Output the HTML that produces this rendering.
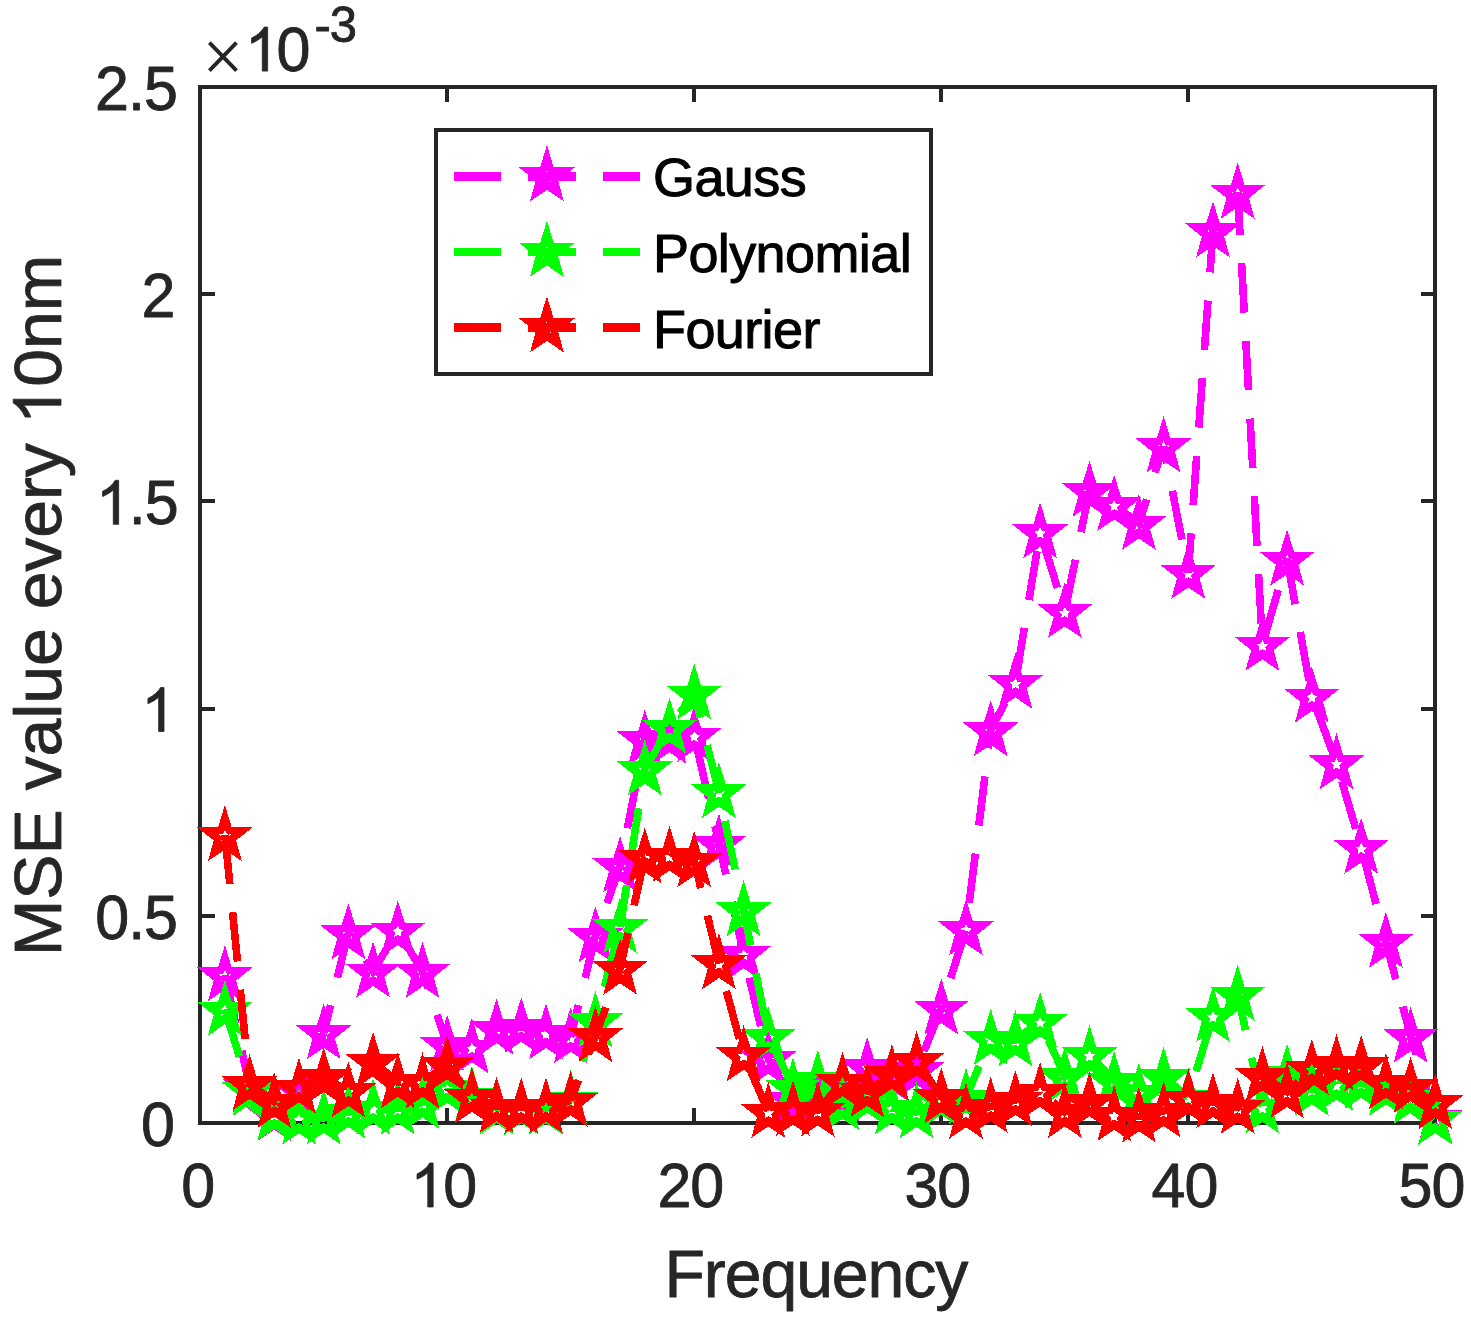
<!DOCTYPE html>
<html><head><meta charset="utf-8"><title>MSE value every 10nm</title>
<style>
html,body{margin:0;padding:0;background:#ffffff;}
body{width:1471px;height:1319px;overflow:hidden;font-family:"Liberation Sans",sans-serif;}
svg{display:block;}
</style></head><body>
<svg width="1471" height="1319" viewBox="0 0 1471 1319">
<defs><path id="st" fill-rule="evenodd" d="M0.00 -29.80 L6.75 -7.70 L28.00 -7.70 L11.20 5.60 L16.90 26.30 L0.00 14.90 L-16.90 26.30 L-11.20 5.60 L-28.00 -7.70 L-6.75 -7.70Z M0.00 -4.70 L1.82 -1.01 L5.90 -0.42 L2.95 2.46 L3.64 6.52 L0.00 4.60 L-3.64 6.52 L-2.95 2.46 L-5.90 -0.42 L-1.82 -1.01Z"/></defs>
<rect x="0" y="0" width="1471" height="1319" fill="#ffffff"/>
<g shape-rendering="crispEdges">
<rect x="200.2" y="87.0" width="1235.1" height="1035.8" fill="none" stroke="#262626" stroke-width="4.2"/>
<line x1="447.2" y1="1122.8" x2="447.2" y2="1108.3" stroke="#262626" stroke-width="4"/>
<line x1="447.2" y1="87.0" x2="447.2" y2="101.5" stroke="#262626" stroke-width="4"/>
<line x1="694.2" y1="1122.8" x2="694.2" y2="1108.3" stroke="#262626" stroke-width="4"/>
<line x1="694.2" y1="87.0" x2="694.2" y2="101.5" stroke="#262626" stroke-width="4"/>
<line x1="941.3" y1="1122.8" x2="941.3" y2="1108.3" stroke="#262626" stroke-width="4"/>
<line x1="941.3" y1="87.0" x2="941.3" y2="101.5" stroke="#262626" stroke-width="4"/>
<line x1="1188.3" y1="1122.8" x2="1188.3" y2="1108.3" stroke="#262626" stroke-width="4"/>
<line x1="1188.3" y1="87.0" x2="1188.3" y2="101.5" stroke="#262626" stroke-width="4"/>
<line x1="200.2" y1="915.6" x2="214.7" y2="915.6" stroke="#262626" stroke-width="4"/>
<line x1="1435.3" y1="915.6" x2="1420.8" y2="915.6" stroke="#262626" stroke-width="4"/>
<line x1="200.2" y1="708.5" x2="214.7" y2="708.5" stroke="#262626" stroke-width="4"/>
<line x1="1435.3" y1="708.5" x2="1420.8" y2="708.5" stroke="#262626" stroke-width="4"/>
<line x1="200.2" y1="501.3" x2="214.7" y2="501.3" stroke="#262626" stroke-width="4"/>
<line x1="1435.3" y1="501.3" x2="1420.8" y2="501.3" stroke="#262626" stroke-width="4"/>
<line x1="200.2" y1="294.2" x2="214.7" y2="294.2" stroke="#262626" stroke-width="4"/>
<line x1="1435.3" y1="294.2" x2="1420.8" y2="294.2" stroke="#262626" stroke-width="4"/>
</g>
<g font-family="'Liberation Sans', sans-serif" fill="#262626" stroke="#262626" stroke-width="0.8" stroke-linejoin="round" style="font-kerning:none">
<g transform="translate(198.20,1207.00) scale(1.0000,1.0200)" font-size="61.00"><text x="-16.96" y="0" letter-spacing="-1.00">0</text></g>
<g transform="translate(443.82,1207.00) scale(1.0000,1.0200)" font-size="61.00"><path vector-effect="non-scaling-stroke" transform="translate(-33.42,0) scale(0.02979,-0.02932)" d="M763 0H583V1147Q518 1085 412.5 1023T223 930V1104Q374 1175 487 1276T647 1472H763Z"/><text x="-0.50" y="0" letter-spacing="-1.00">0</text></g>
<g transform="translate(690.84,1207.00) scale(1.0000,1.0200)" font-size="61.00"><text x="-33.42" y="0" letter-spacing="-1.00">20</text></g>
<g transform="translate(937.86,1207.00) scale(1.0000,1.0200)" font-size="61.00"><text x="-33.42" y="0" letter-spacing="-1.00">30</text></g>
<g transform="translate(1184.88,1207.00) scale(1.0000,1.0200)" font-size="61.00"><text x="-33.42" y="0" letter-spacing="-1.00">40</text></g>
<g transform="translate(1431.90,1207.00) scale(1.0000,1.0200)" font-size="61.00"><text x="-33.42" y="0" letter-spacing="-1.00">50</text></g>
<g transform="translate(174.90,1145.80) scale(1.0000,1.0200)" font-size="61.00"><text x="-33.92" y="0" letter-spacing="-1.00">0</text></g>
<g transform="translate(178.00,938.64) scale(1.0000,1.0200)" font-size="61.00"><text x="-82.79" y="0" letter-spacing="-1.00">0.5</text></g>
<g transform="translate(175.20,731.48) scale(1.0000,1.0200)" font-size="61.00"><path vector-effect="non-scaling-stroke" transform="translate(-33.92,0) scale(0.02979,-0.02932)" d="M763 0H583V1147Q518 1085 412.5 1023T223 930V1104Q374 1175 487 1276T647 1472H763Z"/></g>
<g transform="translate(178.70,524.32) scale(1.0000,1.0200)" font-size="61.00"><path vector-effect="non-scaling-stroke" transform="translate(-82.79,0) scale(0.02979,-0.02932)" d="M763 0H583V1147Q518 1085 412.5 1023T223 930V1104Q374 1175 487 1276T647 1472H763Z"/><text x="-49.87" y="0" letter-spacing="-1.00">.5</text></g>
<g transform="translate(175.50,317.16) scale(1.0000,1.0200)" font-size="61.00"><text x="-33.92" y="0" letter-spacing="-1.00">2</text></g>
<g transform="translate(177.80,110.00) scale(1.0000,1.0200)" font-size="61.00"><text x="-82.79" y="0" letter-spacing="-1.00">2.5</text></g>
<path d="M209.4 42.6L236.5 70.6M236.5 42.6L209.4 70.6" stroke="#262626" stroke-width="3.9" fill="none"/>
<g transform="translate(244.90,71.10) scale(1.0000,1.0200)" font-size="61.00"><path vector-effect="non-scaling-stroke" transform="translate(0.00,0) scale(0.02979,-0.02932)" d="M763 0H583V1147Q518 1085 412.5 1023T223 930V1104Q374 1175 487 1276T647 1472H763Z"/><text x="31.72" y="0" letter-spacing="-2.20">0</text></g>
<g transform="translate(314.50,42.20) scale(1.0000,1.0200)" font-size="49.00"><text x="0.00" y="0" letter-spacing="-1.00">-3</text></g>
<g transform="translate(816.40,1296.50) scale(1.0000,1.0150)" font-size="66.20"><text x="-151.96" y="0" letter-spacing="-1.10">Frequency</text></g>
<g transform="translate(61.00,605.50) rotate(-90) scale(1.0250,1.0000)" font-size="66.20"><text x="-342.15" y="0" letter-spacing="0.00">MSE value every </text><path vector-effect="non-scaling-stroke" transform="translate(176.59,0) scale(0.03232,-0.03245)" d="M763 0H583V1147Q518 1085 412.5 1023T223 930V1104Q374 1175 487 1276T647 1472H763Z"/><text x="213.40" y="0" letter-spacing="0.00">0nm</text></g>
</g>
<g shape-rendering="crispEdges">
<polyline fill="none" stroke="#ff00ff" stroke-width="7.6" stroke-dasharray="49.5 28.3" stroke-dashoffset="0.00" points="224.9,974.9 249.6,1086.3 274.3,1114.9 299.0,1089.7 323.7,1032.9"/>
<polyline fill="none" stroke="#ff00ff" stroke-width="7.6" stroke-dasharray="49.5 28.3" stroke-dashoffset="20.80" points="323.7,1032.9 348.4,933.0 373.1,971.2 397.8,930.3 422.5,971.6"/>
<polyline fill="none" stroke="#ff00ff" stroke-width="7.6" stroke-dasharray="49.5 28.3" stroke-dashoffset="32.10" points="422.5,971.6 447.2,1044.5 471.9,1047.4 496.6,1028.3 521.3,1026.9 546.0,1033.0 570.7,1037.0"/>
<polyline fill="none" stroke="#ff00ff" stroke-width="7.6" stroke-dasharray="49.5 28.3" stroke-dashoffset="16.75" points="570.7,1037.0 595.4,936.0 620.1,865.9 644.8,739.1 669.5,737.5 694.2,735.4 718.9,843.3 743.6,953.5 768.3,1059.0 793.0,1100.0 817.8,1085.5 842.5,1095.5 867.2,1066.7 891.9,1075.2 916.6,1069.9"/>
<polyline fill="none" stroke="#ff00ff" stroke-width="7.6" stroke-dasharray="49.5 28.3" stroke-dashoffset="57.50" points="916.6,1069.9 941.3,1008.2 966.0,929.0 990.7,730.0 1015.4,682.5 1040.1,532.0 1064.8,611.6 1089.5,490.5 1114.2,504.6 1138.9,523.5 1163.6,446.0"/>
<polyline fill="none" stroke="#ff00ff" stroke-width="7.6" stroke-dasharray="49.5 28.3" stroke-dashoffset="32.05" points="1163.6,446.0 1188.3,572.5"/>
<polyline fill="none" stroke="#ff00ff" stroke-width="7.6" stroke-dasharray="49.5 28.3" stroke-dashoffset="10.30" points="1188.3,572.5 1213.0,231.0 1237.7,192.4"/>
<polyline fill="none" stroke="#ff00ff" stroke-width="7.6" stroke-dasharray="49.5 28.3" stroke-dashoffset="6.90" points="1237.7,192.4 1262.4,644.5 1287.1,559.2 1311.8,696.3 1336.5,763.0 1361.2,847.5 1385.9,941.5 1410.6,1036.4 1435.3,1117.5"/>
<use href="#st" x="224.9" y="974.9" fill="#ff00ff"/>
<use href="#st" x="249.6" y="1086.3" fill="#ff00ff"/>
<use href="#st" x="274.3" y="1114.9" fill="#ff00ff"/>
<use href="#st" x="299.0" y="1089.7" fill="#ff00ff"/>
<use href="#st" x="323.7" y="1032.9" fill="#ff00ff"/>
<use href="#st" x="348.4" y="933.0" fill="#ff00ff"/>
<use href="#st" x="373.1" y="971.2" fill="#ff00ff"/>
<use href="#st" x="397.8" y="930.3" fill="#ff00ff"/>
<use href="#st" x="422.5" y="971.6" fill="#ff00ff"/>
<use href="#st" x="447.2" y="1044.5" fill="#ff00ff"/>
<use href="#st" x="471.9" y="1047.4" fill="#ff00ff"/>
<use href="#st" x="496.6" y="1028.3" fill="#ff00ff"/>
<use href="#st" x="521.3" y="1026.9" fill="#ff00ff"/>
<use href="#st" x="546.0" y="1033.0" fill="#ff00ff"/>
<use href="#st" x="570.7" y="1037.0" fill="#ff00ff"/>
<use href="#st" x="595.4" y="936.0" fill="#ff00ff"/>
<use href="#st" x="620.1" y="865.9" fill="#ff00ff"/>
<use href="#st" x="644.8" y="739.1" fill="#ff00ff"/>
<use href="#st" x="669.5" y="737.5" fill="#ff00ff"/>
<use href="#st" x="694.2" y="735.4" fill="#ff00ff"/>
<use href="#st" x="718.9" y="843.3" fill="#ff00ff"/>
<use href="#st" x="743.6" y="953.5" fill="#ff00ff"/>
<use href="#st" x="768.3" y="1059.0" fill="#ff00ff"/>
<use href="#st" x="793.0" y="1100.0" fill="#ff00ff"/>
<use href="#st" x="817.8" y="1085.5" fill="#ff00ff"/>
<use href="#st" x="842.5" y="1095.5" fill="#ff00ff"/>
<use href="#st" x="867.2" y="1066.7" fill="#ff00ff"/>
<use href="#st" x="891.9" y="1075.2" fill="#ff00ff"/>
<use href="#st" x="916.6" y="1069.9" fill="#ff00ff"/>
<use href="#st" x="941.3" y="1008.2" fill="#ff00ff"/>
<use href="#st" x="966.0" y="929.0" fill="#ff00ff"/>
<use href="#st" x="990.7" y="730.0" fill="#ff00ff"/>
<use href="#st" x="1015.4" y="682.5" fill="#ff00ff"/>
<use href="#st" x="1040.1" y="532.0" fill="#ff00ff"/>
<use href="#st" x="1064.8" y="611.6" fill="#ff00ff"/>
<use href="#st" x="1089.5" y="490.5" fill="#ff00ff"/>
<use href="#st" x="1114.2" y="504.6" fill="#ff00ff"/>
<use href="#st" x="1138.9" y="523.5" fill="#ff00ff"/>
<use href="#st" x="1163.6" y="446.0" fill="#ff00ff"/>
<use href="#st" x="1188.3" y="572.5" fill="#ff00ff"/>
<use href="#st" x="1213.0" y="231.0" fill="#ff00ff"/>
<use href="#st" x="1237.7" y="192.4" fill="#ff00ff"/>
<use href="#st" x="1262.4" y="644.5" fill="#ff00ff"/>
<use href="#st" x="1287.1" y="559.2" fill="#ff00ff"/>
<use href="#st" x="1311.8" y="696.3" fill="#ff00ff"/>
<use href="#st" x="1336.5" y="763.0" fill="#ff00ff"/>
<use href="#st" x="1361.2" y="847.5" fill="#ff00ff"/>
<use href="#st" x="1385.9" y="941.5" fill="#ff00ff"/>
<use href="#st" x="1410.6" y="1036.4" fill="#ff00ff"/>
<use href="#st" x="1435.3" y="1117.5" fill="#ff00ff"/>
<polyline fill="none" stroke="#00ff00" stroke-width="7.6" stroke-dasharray="49.5 28.3" stroke-dashoffset="0.00" points="224.9,1009.3 249.6,1089.7 274.3,1114.1 299.0,1118.4 323.7,1118.0 348.4,1112.1 373.1,1108.3 397.8,1108.3 422.5,1102.6 447.2,1088.0 471.9,1095.6 496.6,1108.3 521.3,1108.3 546.0,1108.3 570.7,1099.6 595.4,1020.9 620.1,927.0"/>
<polyline fill="none" stroke="#00ff00" stroke-width="7.6" stroke-dasharray="49.5 28.3" stroke-dashoffset="7.20" points="620.1,927.0 644.8,769.0 669.5,727.5 694.2,693.2 718.9,791.8 743.6,910.0 768.3,1036.4 793.0,1087.3 817.8,1079.5 842.5,1104.0 867.2,1097.9 891.9,1108.0 916.6,1112.0 941.3,1100.0 966.0,1097.5"/>
<polyline fill="none" stroke="#00ff00" stroke-width="7.6" stroke-dasharray="49.5 28.3" stroke-dashoffset="15.50" points="966.0,1097.5 990.7,1038.6 1015.4,1039.9 1040.1,1021.5 1064.8,1076.2 1089.5,1055.0 1114.2,1080.7 1138.9,1092.5 1163.6,1076.6 1188.3,1097.4"/>
<polyline fill="none" stroke="#00ff00" stroke-width="7.6" stroke-dasharray="49.5 28.3" stroke-dashoffset="50.50" points="1188.3,1097.4 1213.0,1015.8 1237.7,994.4 1262.4,1107.1 1287.1,1073.5 1311.8,1089.4 1336.5,1084.8 1361.2,1083.0 1385.9,1089.4 1410.6,1097.7 1435.3,1118.3"/>
<use href="#st" x="224.9" y="1009.3" fill="#00ff00"/>
<use href="#st" x="249.6" y="1089.7" fill="#00ff00"/>
<use href="#st" x="274.3" y="1114.1" fill="#00ff00"/>
<use href="#st" x="299.0" y="1118.4" fill="#00ff00"/>
<use href="#st" x="323.7" y="1118.0" fill="#00ff00"/>
<use href="#st" x="348.4" y="1112.1" fill="#00ff00"/>
<use href="#st" x="373.1" y="1108.3" fill="#00ff00"/>
<use href="#st" x="397.8" y="1108.3" fill="#00ff00"/>
<use href="#st" x="422.5" y="1102.6" fill="#00ff00"/>
<use href="#st" x="447.2" y="1088.0" fill="#00ff00"/>
<use href="#st" x="471.9" y="1095.6" fill="#00ff00"/>
<use href="#st" x="496.6" y="1108.3" fill="#00ff00"/>
<use href="#st" x="521.3" y="1108.3" fill="#00ff00"/>
<use href="#st" x="546.0" y="1108.3" fill="#00ff00"/>
<use href="#st" x="570.7" y="1099.6" fill="#00ff00"/>
<use href="#st" x="595.4" y="1020.9" fill="#00ff00"/>
<use href="#st" x="620.1" y="927.0" fill="#00ff00"/>
<use href="#st" x="644.8" y="769.0" fill="#00ff00"/>
<use href="#st" x="669.5" y="727.5" fill="#00ff00"/>
<use href="#st" x="694.2" y="693.2" fill="#00ff00"/>
<use href="#st" x="718.9" y="791.8" fill="#00ff00"/>
<use href="#st" x="743.6" y="910.0" fill="#00ff00"/>
<use href="#st" x="768.3" y="1036.4" fill="#00ff00"/>
<use href="#st" x="793.0" y="1087.3" fill="#00ff00"/>
<use href="#st" x="817.8" y="1079.5" fill="#00ff00"/>
<use href="#st" x="842.5" y="1104.0" fill="#00ff00"/>
<use href="#st" x="867.2" y="1097.9" fill="#00ff00"/>
<use href="#st" x="891.9" y="1108.0" fill="#00ff00"/>
<use href="#st" x="916.6" y="1112.0" fill="#00ff00"/>
<use href="#st" x="941.3" y="1100.0" fill="#00ff00"/>
<use href="#st" x="966.0" y="1097.5" fill="#00ff00"/>
<use href="#st" x="990.7" y="1038.6" fill="#00ff00"/>
<use href="#st" x="1015.4" y="1039.9" fill="#00ff00"/>
<use href="#st" x="1040.1" y="1021.5" fill="#00ff00"/>
<use href="#st" x="1064.8" y="1076.2" fill="#00ff00"/>
<use href="#st" x="1089.5" y="1055.0" fill="#00ff00"/>
<use href="#st" x="1114.2" y="1080.7" fill="#00ff00"/>
<use href="#st" x="1138.9" y="1092.5" fill="#00ff00"/>
<use href="#st" x="1163.6" y="1076.6" fill="#00ff00"/>
<use href="#st" x="1188.3" y="1097.4" fill="#00ff00"/>
<use href="#st" x="1213.0" y="1015.8" fill="#00ff00"/>
<use href="#st" x="1237.7" y="994.4" fill="#00ff00"/>
<use href="#st" x="1262.4" y="1107.1" fill="#00ff00"/>
<use href="#st" x="1287.1" y="1073.5" fill="#00ff00"/>
<use href="#st" x="1311.8" y="1089.4" fill="#00ff00"/>
<use href="#st" x="1336.5" y="1084.8" fill="#00ff00"/>
<use href="#st" x="1361.2" y="1083.0" fill="#00ff00"/>
<use href="#st" x="1385.9" y="1089.4" fill="#00ff00"/>
<use href="#st" x="1410.6" y="1097.7" fill="#00ff00"/>
<use href="#st" x="1435.3" y="1118.3" fill="#00ff00"/>
<polyline fill="none" stroke="#ff0000" stroke-width="7.6" stroke-dasharray="49.5 28.3" stroke-dashoffset="0.00" points="224.9,834.8 249.6,1084.0 274.3,1101.7 299.0,1087.4 323.7,1077.2 348.4,1091.1 373.1,1061.5 397.8,1082.0 422.5,1082.2 447.2,1064.4 471.9,1097.0 496.6,1106.4 521.3,1107.3 546.0,1106.9 570.7,1100.4"/>
<polyline fill="none" stroke="#ff0000" stroke-width="7.6" stroke-dasharray="49.5 28.3" stroke-dashoffset="27.90" points="570.7,1100.4 595.4,1035.8 620.1,968.5 644.8,857.2 669.5,855.7 694.2,860.9 718.9,963.0 743.6,1054.9 768.3,1111.5 793.0,1109.7 817.8,1110.6 842.5,1081.5 867.2,1091.0 891.9,1073.9 916.6,1060.7 941.3,1097.1 966.0,1112.5 990.7,1106.4 1015.4,1100.1 1040.1,1091.8 1064.8,1111.7 1089.5,1101.5 1114.2,1115.0 1138.9,1116.4 1163.6,1111.0 1188.3,1098.5 1213.0,1102.1 1237.7,1107.5 1262.4,1075.6 1287.1,1092.0 1311.8,1068.5 1336.5,1064.0 1361.2,1064.8 1385.9,1082.8 1410.6,1086.5 1435.3,1103.0"/>
<use href="#st" x="224.9" y="834.8" fill="#ff0000"/>
<use href="#st" x="249.6" y="1084.0" fill="#ff0000"/>
<use href="#st" x="274.3" y="1101.7" fill="#ff0000"/>
<use href="#st" x="299.0" y="1087.4" fill="#ff0000"/>
<use href="#st" x="323.7" y="1077.2" fill="#ff0000"/>
<use href="#st" x="348.4" y="1091.1" fill="#ff0000"/>
<use href="#st" x="373.1" y="1061.5" fill="#ff0000"/>
<use href="#st" x="397.8" y="1082.0" fill="#ff0000"/>
<use href="#st" x="422.5" y="1082.2" fill="#ff0000"/>
<use href="#st" x="447.2" y="1064.4" fill="#ff0000"/>
<use href="#st" x="471.9" y="1097.0" fill="#ff0000"/>
<use href="#st" x="496.6" y="1106.4" fill="#ff0000"/>
<use href="#st" x="521.3" y="1107.3" fill="#ff0000"/>
<use href="#st" x="546.0" y="1106.9" fill="#ff0000"/>
<use href="#st" x="570.7" y="1100.4" fill="#ff0000"/>
<use href="#st" x="595.4" y="1035.8" fill="#ff0000"/>
<use href="#st" x="620.1" y="968.5" fill="#ff0000"/>
<use href="#st" x="644.8" y="857.2" fill="#ff0000"/>
<use href="#st" x="669.5" y="855.7" fill="#ff0000"/>
<use href="#st" x="694.2" y="860.9" fill="#ff0000"/>
<use href="#st" x="718.9" y="963.0" fill="#ff0000"/>
<use href="#st" x="743.6" y="1054.9" fill="#ff0000"/>
<use href="#st" x="768.3" y="1111.5" fill="#ff0000"/>
<use href="#st" x="793.0" y="1109.7" fill="#ff0000"/>
<use href="#st" x="817.8" y="1110.6" fill="#ff0000"/>
<use href="#st" x="842.5" y="1081.5" fill="#ff0000"/>
<use href="#st" x="867.2" y="1091.0" fill="#ff0000"/>
<use href="#st" x="891.9" y="1073.9" fill="#ff0000"/>
<use href="#st" x="916.6" y="1060.7" fill="#ff0000"/>
<use href="#st" x="941.3" y="1097.1" fill="#ff0000"/>
<use href="#st" x="966.0" y="1112.5" fill="#ff0000"/>
<use href="#st" x="990.7" y="1106.4" fill="#ff0000"/>
<use href="#st" x="1015.4" y="1100.1" fill="#ff0000"/>
<use href="#st" x="1040.1" y="1091.8" fill="#ff0000"/>
<use href="#st" x="1064.8" y="1111.7" fill="#ff0000"/>
<use href="#st" x="1089.5" y="1101.5" fill="#ff0000"/>
<use href="#st" x="1114.2" y="1115.0" fill="#ff0000"/>
<use href="#st" x="1138.9" y="1116.4" fill="#ff0000"/>
<use href="#st" x="1163.6" y="1111.0" fill="#ff0000"/>
<use href="#st" x="1188.3" y="1098.5" fill="#ff0000"/>
<use href="#st" x="1213.0" y="1102.1" fill="#ff0000"/>
<use href="#st" x="1237.7" y="1107.5" fill="#ff0000"/>
<use href="#st" x="1262.4" y="1075.6" fill="#ff0000"/>
<use href="#st" x="1287.1" y="1092.0" fill="#ff0000"/>
<use href="#st" x="1311.8" y="1068.5" fill="#ff0000"/>
<use href="#st" x="1336.5" y="1064.0" fill="#ff0000"/>
<use href="#st" x="1361.2" y="1064.8" fill="#ff0000"/>
<use href="#st" x="1385.9" y="1082.8" fill="#ff0000"/>
<use href="#st" x="1410.6" y="1086.5" fill="#ff0000"/>
<use href="#st" x="1435.3" y="1103.0" fill="#ff0000"/>
</g>
<rect x="436.1" y="130.2" width="494.9" height="243.7" fill="#ffffff" stroke="#262626" stroke-width="4" shape-rendering="crispEdges"/>
<g shape-rendering="crispEdges">
<line x1="453.7" y1="176.4" x2="640" y2="176.4" stroke="#ff00ff" stroke-width="8.2" stroke-dasharray="47.4 27"/>
<use href="#st" x="546.9" y="175.0" fill="#ff00ff"/>
<line x1="453.7" y1="251.9" x2="640" y2="251.9" stroke="#00ff00" stroke-width="8.2" stroke-dasharray="47.4 27"/>
<use href="#st" x="546.9" y="250.5" fill="#00ff00"/>
<line x1="453.7" y1="327.5" x2="640" y2="327.5" stroke="#ff0000" stroke-width="8.2" stroke-dasharray="47.4 27"/>
<use href="#st" x="546.9" y="326.1" fill="#ff0000"/>
</g>
<g font-family="'Liberation Sans', sans-serif" fill="#000000" stroke="#000000" stroke-width="1.0" stroke-linejoin="round" style="font-kerning:none">
<g transform="translate(653.00,196.00) scale(1.0000,1.0080)" font-size="54.00" fill="#000000"><text x="0.00" y="0" letter-spacing="-0.60">Gauss</text></g>
<g transform="translate(653.00,271.90) scale(1.0000,1.0080)" font-size="54.00" fill="#000000"><text x="0.00" y="0" letter-spacing="-0.60">Polynomial</text></g>
<g transform="translate(653.00,347.80) scale(1.0000,1.0080)" font-size="54.00" fill="#000000"><text x="0.00" y="0" letter-spacing="-0.60">Fourier</text></g>
</g>
</svg>
</body></html>
